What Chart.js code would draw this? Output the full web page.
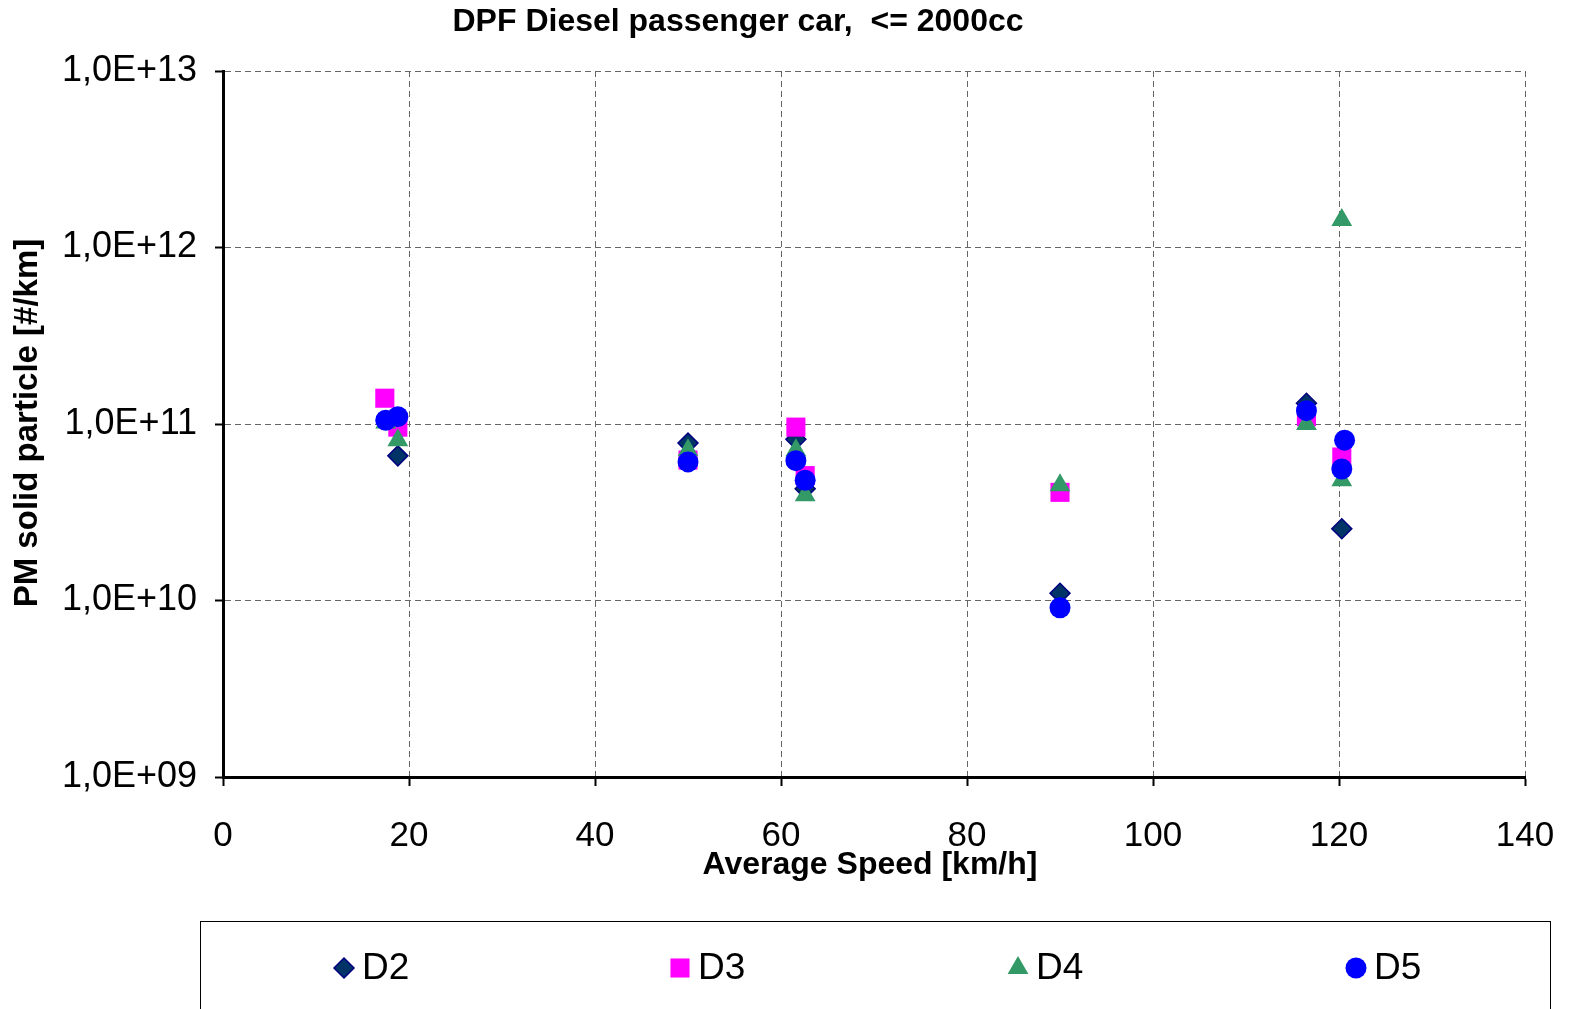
<!DOCTYPE html>
<html>
<head>
<meta charset="utf-8">
<script src="https://cdn.jsdelivr.net/npm/chart.js@4.4.1/dist/chart.umd.min.js"></script>
<style>
  html, body { margin: 0; padding: 0; background: #fff; }
  #wrap { width: 1571px; height: 1009px; position: relative; }
</style>
</head>
<body>
<div id="wrap"><canvas id="myChart"></canvas></div>
<script>
// valores (velocidade media km/h, particulas #/km)
const d2Speed = [18.8, 50.0, 61.6, 62.6, 90.0, 116.5, 120.3];
const d2Value = [6.6e10, 7.8e10, 8.2e10, 4.3e10, 1.1e10, 1.31e11, 2.55e10];

const d3Speed = [17.4, 18.8, 50.0, 61.6, 62.6, 90.0, 116.5, 120.3];
const d3Value = [1.4e11, 9.6e10, 6.25e10, 9.6e10, 5.1e10, 4.1e10, 1.1e11, 6.5e10];

const d4Speed = [17.5, 18.8, 50.0, 61.6, 62.6, 90.0, 116.5, 120.3, 120.3];
const d4Value = [1.02e11, 8.1e10, 7.1e10, 7.1e10, 3.95e10, 4.5e10, 1.0e11, 4.8e10, 1.43e12];

const d5Speed = [17.5, 18.8, 50.0, 61.6, 62.6, 90.0, 116.5, 120.6, 120.3];
const d5Value = [1.05e11, 1.1e11, 6.1e10, 6.2e10, 4.8e10, 9.1e9, 1.19e11, 8.1e10, 5.56e10];

const seriesNames = ['D2', 'D3', 'D4', 'D5'];
const xTicks = [0, 20, 40, 60, 80, 100, 120, 140];
const yExponents = [9, 10, 11, 12, 13];

const chartTitle = 'DPF Diesel passenger car,  <= 2000cc';
const xTitle = 'Average Speed [km/h]';
const yTitle = 'PM solid particle [#/km]';

function toPoints(xs, ys) {
    return xs.map((x, i) => ({ x: x, y: ys[i] }));
}

// estilos das series (Excel: a ultima fica por cima)
const styles = [
    { pointStyle: 'rectRot', radius: 10, bg: '#003366', border: '#000080', bw: 1.5 },
    { pointStyle: 'rect', radius: 13.5, bg: '#FF00FF', border: '#FF00FF', bw: 0 },
    { pointStyle: 'triangle', radius: 12, bg: '#339966', border: '#339966', bw: 0 },
    { pointStyle: 'circle', radius: 10.5, bg: '#0000FF', border: '#0000FF', bw: 0 }
];
const allData = [
    toPoints(d2Speed, d2Value),
    toPoints(d3Speed, d3Value),
    toPoints(d4Speed, d4Value),
    toPoints(d5Speed, d5Value)
];

const datasets = seriesNames.map((name, i) => ({
    label: name,
    data: allData[i],
    pointStyle: styles[i].pointStyle,
    pointRadius: styles[i].radius,
    pointHoverRadius: styles[i].radius,
    backgroundColor: styles[i].bg,
    borderColor: styles[i].border,
    borderWidth: styles[i].bw,
    showLine: false,
    order: 4 - i
}));

const FONT = '"Liberation Sans", Arial, sans-serif';

// titulo, titulos dos eixos e legenda desenhados a mao
const decorPlugin = {
    id: 'decor',
    afterDraw(chart) {
        const ctx = chart.ctx;
        ctx.save();
        ctx.fillStyle = '#000';
        ctx.textAlign = 'center';
        ctx.textBaseline = 'middle';

        ctx.font = 'bold 32px ' + FONT;
        ctx.fillText(chartTitle, 738, 22);

        ctx.font = 'bold 32px ' + FONT;
        ctx.fillText(xTitle, 870, 865);

        ctx.save();
        ctx.font = 'bold 33px ' + FONT;
        ctx.translate(28, 423);
        ctx.rotate(-Math.PI / 2);
        ctx.fillText(yTitle, 0, 0);
        ctx.restore();

        // caixa da legenda
        ctx.strokeStyle = '#000';
        ctx.lineWidth = 1;
        ctx.strokeRect(200.5, 921.5, 1350, 100);

        const legendX = [344, 680, 1018, 1356];
        ctx.font = '37px ' + FONT;
        ctx.textAlign = 'left';
        seriesNames.forEach((name, i) => {
            const s = styles[i];
            ctx.fillStyle = s.bg;
            ctx.strokeStyle = s.border;
            ctx.lineWidth = s.bw;
            Chart.helpers.drawPoint(ctx, {
                pointStyle: s.pointStyle,
                radius: s.radius,
                rotation: 0,
                borderWidth: s.bw
            }, legendX[i], 968);
            ctx.fillStyle = '#000';
            ctx.fillText(name, legendX[i] + 18, 969);
        });
        ctx.restore();
    }
};

const ctx = document.getElementById('myChart').getContext('2d');
new Chart(ctx, {
    type: 'scatter',
    data: { datasets: datasets },
    options: {
        responsive: true,
        maintainAspectRatio: false,
        animation: false,
        layout: { padding: { left: 0, top: 71, right: 46, bottom: 0 } },
        plugins: {
            legend: { display: false },
            title: { display: false },
            tooltip: { enabled: false }
        },
        scales: {
            x: {
                type: 'linear',
                min: 0,
                max: 140,
                afterBuildTicks: (scale) => {
                    scale.ticks = xTicks.map(v => ({ value: v }));
                },
                afterFit: (scale) => {
                    scale.height = 232;
                    // o rotulo "140" nao deve empurrar a area do grafico
                    scale.paddingRight = 0;
                    scale.paddingLeft = 0;
                },
                ticks: {
                    color: '#000',
                    padding: 29,
                    maxRotation: 0,
                    font: { size: 35, family: FONT }
                },
                grid: {
                    color: (c) => (c.tick && c.tick.value === 0) ? 'rgba(0,0,0,0)' : '#666',
                    lineWidth: 1,
                    tickLength: 9,
                    tickColor: '#000',
                    tickWidth: 2,
                    tickBorderDash: []
                },
                border: { color: '#000', width: 3, dash: [6, 4] }
            },
            y: {
                type: 'logarithmic',
                min: 1e9,
                max: 1e13,
                afterBuildTicks: (scale) => {
                    scale.ticks = yExponents.map(e => ({ value: Math.pow(10, e), major: true }));
                },
                afterFit: (scale) => { scale.width = 223; },
                ticks: {
                    color: '#000',
                    padding: 18,
                    font: { size: 36, family: FONT },
                    callback: (value) => {
                        const e = Math.round(Math.log10(value));
                        return '1,0E+' + String(e).padStart(2, '0');
                    }
                },
                grid: {
                    color: '#666',
                    lineWidth: 1,
                    tickLength: 8,
                    tickColor: '#000',
                    tickWidth: 2,
                    tickBorderDash: []
                },
                border: { color: '#000', width: 3, dash: [6, 4] }
            }
        }
    },
    plugins: [decorPlugin]
});
</script>
</body>
</html>
